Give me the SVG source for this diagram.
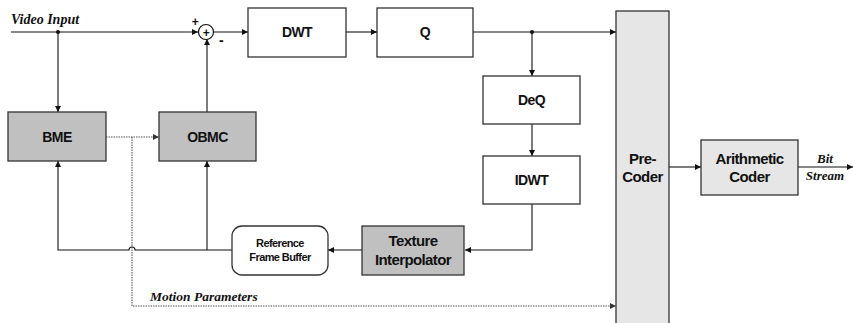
<svg xmlns="http://www.w3.org/2000/svg" width="853" height="323" viewBox="0 0 853 323">
  <defs>
    <marker id="arr" viewBox="0 0 10 10" refX="10" refY="5" markerWidth="6" markerHeight="6" orient="auto" markerUnits="userSpaceOnUse">
      <path d="M0,0 L10,5 L0,10 z" fill="#111"/>
    </marker>
    <marker id="arrDot" viewBox="0 0 10 10" refX="10" refY="5" markerWidth="6" markerHeight="6" orient="auto" markerUnits="userSpaceOnUse">
      <path d="M0,0 L10,5 L0,10 z" fill="#333"/>
    </marker>
  </defs>
  <style>
    .box { stroke: #333; stroke-width: 1.3; }
    .white { fill: #fff; }
    .dark { fill: #c0c0c0; }
    .light { fill: #e6e6e6; }
    .lbl { font-family: "Liberation Sans", Arial, sans-serif; font-weight: bold; fill: #111; text-anchor: middle; letter-spacing: -0.6px; }
    .ital { font-family: "Liberation Serif", "Times New Roman", serif; font-weight: bold; font-style: italic; fill: #111; }
    .line { fill: none; stroke: #111; stroke-width: 1.1; }
    .dot { fill: none; stroke: #555; stroke-width: 1.1; stroke-dasharray: 1.5 1; }
  </style>
  <rect width="853" height="323" fill="#fff"/>

  <!-- connectors -->
  <g id="connectors">
    <!-- video input to summing node -->
    <path class="line" d="M11,32 H198" marker-end="url(#arr)"/>
    <circle cx="58" cy="32" r="2" fill="#111"/>
    <path class="line" d="M58,32 V112" marker-end="url(#arr)"/>
    <!-- summing node to DWT -->
    <path class="line" d="M213,32 H248" marker-end="url(#arr)"/>
    <!-- DWT to Q -->
    <path class="line" d="M346,32 H377" marker-end="url(#arr)"/>
    <!-- Q to Pre-Coder -->
    <path class="line" d="M473,32 H616" marker-end="url(#arr)"/>
    <circle cx="532" cy="32" r="2" fill="#111"/>
    <!-- Q to DeQ -->
    <path class="line" d="M532,32 V76" marker-end="url(#arr)"/>
    <!-- DeQ to IDWT -->
    <path class="line" d="M532,124 V156" marker-end="url(#arr)"/>
    <!-- IDWT to Texture Interpolator -->
    <path class="line" d="M532,204 V250 H465" marker-end="url(#arr)"/>
    <!-- Texture Interpolator to Reference Frame Buffer -->
    <path class="line" d="M362,250 H328" marker-end="url(#arr)"/>
    <!-- reference frame feedback to BME and OBMC -->
    <path class="line" d="M232,250 H135 A3,3 0 0 0 129,250 H58 V161" marker-end="url(#arr)"/>
    <path class="line" d="M207,250 V161" marker-end="url(#arr)"/>
    <!-- OBMC to summing node -->
    <path class="line" d="M207,112 V39" marker-end="url(#arr)"/>
    <!-- BME motion vectors -->
    <path class="dot" d="M106,137 H159" marker-end="url(#arrDot)"/>
    <path class="dot" d="M132,137 V306 H616" marker-end="url(#arrDot)"/>
    <!-- Pre-Coder to Arithmetic Coder -->
    <path class="line" d="M669,167 H701" marker-end="url(#arr)"/>
    <!-- bit stream out -->
    <path class="line" d="M798,167 H853" marker-end="url(#arr)"/>
  </g>

  <!-- summing node -->
  <g id="sum">
    <circle cx="206" cy="32" r="7.5" fill="#fff" stroke="#111" stroke-width="1.2"/>
    <text x="206" y="36.5" class="lbl" font-size="12">+</text>
    <text x="195" y="26" class="lbl" font-size="12">+</text>
    <text x="221" y="45" class="lbl" font-size="14">-</text>
  </g>

  <g id="dwt">
    <rect class="box white" x="248" y="8" width="98" height="49"/>
    <text class="lbl" x="297" y="37" font-size="14">DWT</text>
  </g>
  <g id="q">
    <rect class="box white" x="377" y="8" width="96" height="49"/>
    <text class="lbl" x="425" y="37" font-size="14">Q</text>
  </g>
  <g id="deq">
    <rect class="box white" x="483" y="76" width="97" height="48"/>
    <text class="lbl" x="531.5" y="105" font-size="14">DeQ</text>
  </g>
  <g id="idwt">
    <rect class="box white" x="483" y="156" width="97" height="48"/>
    <text class="lbl" x="531.5" y="185" font-size="14">IDWT</text>
  </g>
  <g id="bme">
    <rect class="box dark" x="8" y="112" width="98" height="49"/>
    <text class="lbl" x="57" y="141.5" font-size="14">BME</text>
  </g>
  <g id="obmc">
    <rect class="box dark" x="159" y="112" width="97" height="49"/>
    <text class="lbl" x="207.5" y="141.5" font-size="14">OBMC</text>
  </g>
  <g id="ref-buffer">
    <rect class="box white" x="232" y="226" width="96" height="49" rx="10" ry="10"/>
    <text class="lbl" x="280" y="247" font-size="11">Reference</text>
    <text class="lbl" x="280" y="261" font-size="11">Frame Buffer</text>
  </g>
  <g id="texture">
    <rect class="box dark" x="362" y="226" width="102" height="49"/>
    <text class="lbl" x="413" y="246" font-size="15">Texture</text>
    <text class="lbl" x="413" y="265" font-size="15">Interpolator</text>
  </g>
  <g id="precoder">
    <rect class="box light" x="616" y="11" width="53" height="320"/>
    <text class="lbl" x="642.5" y="164" font-size="15">Pre-</text>
    <text class="lbl" x="642.5" y="182" font-size="15">Coder</text>
  </g>
  <g id="arith">
    <rect class="box light" x="701" y="140" width="97" height="55"/>
    <text class="lbl" x="749.5" y="164" font-size="15">Arithmetic</text>
    <text class="lbl" x="749.5" y="182" font-size="15">Coder</text>
  </g>

  <!-- labels -->
  <text class="ital" x="11" y="24" font-size="14">Video Input</text>
  <text class="ital" x="150" y="301" font-size="13.5">Motion Parameters</text>
  <text class="ital" x="825" y="163" font-size="13" text-anchor="middle">Bit</text>
  <text class="ital" x="825" y="180" font-size="13" text-anchor="middle">Stream</text>
</svg>
